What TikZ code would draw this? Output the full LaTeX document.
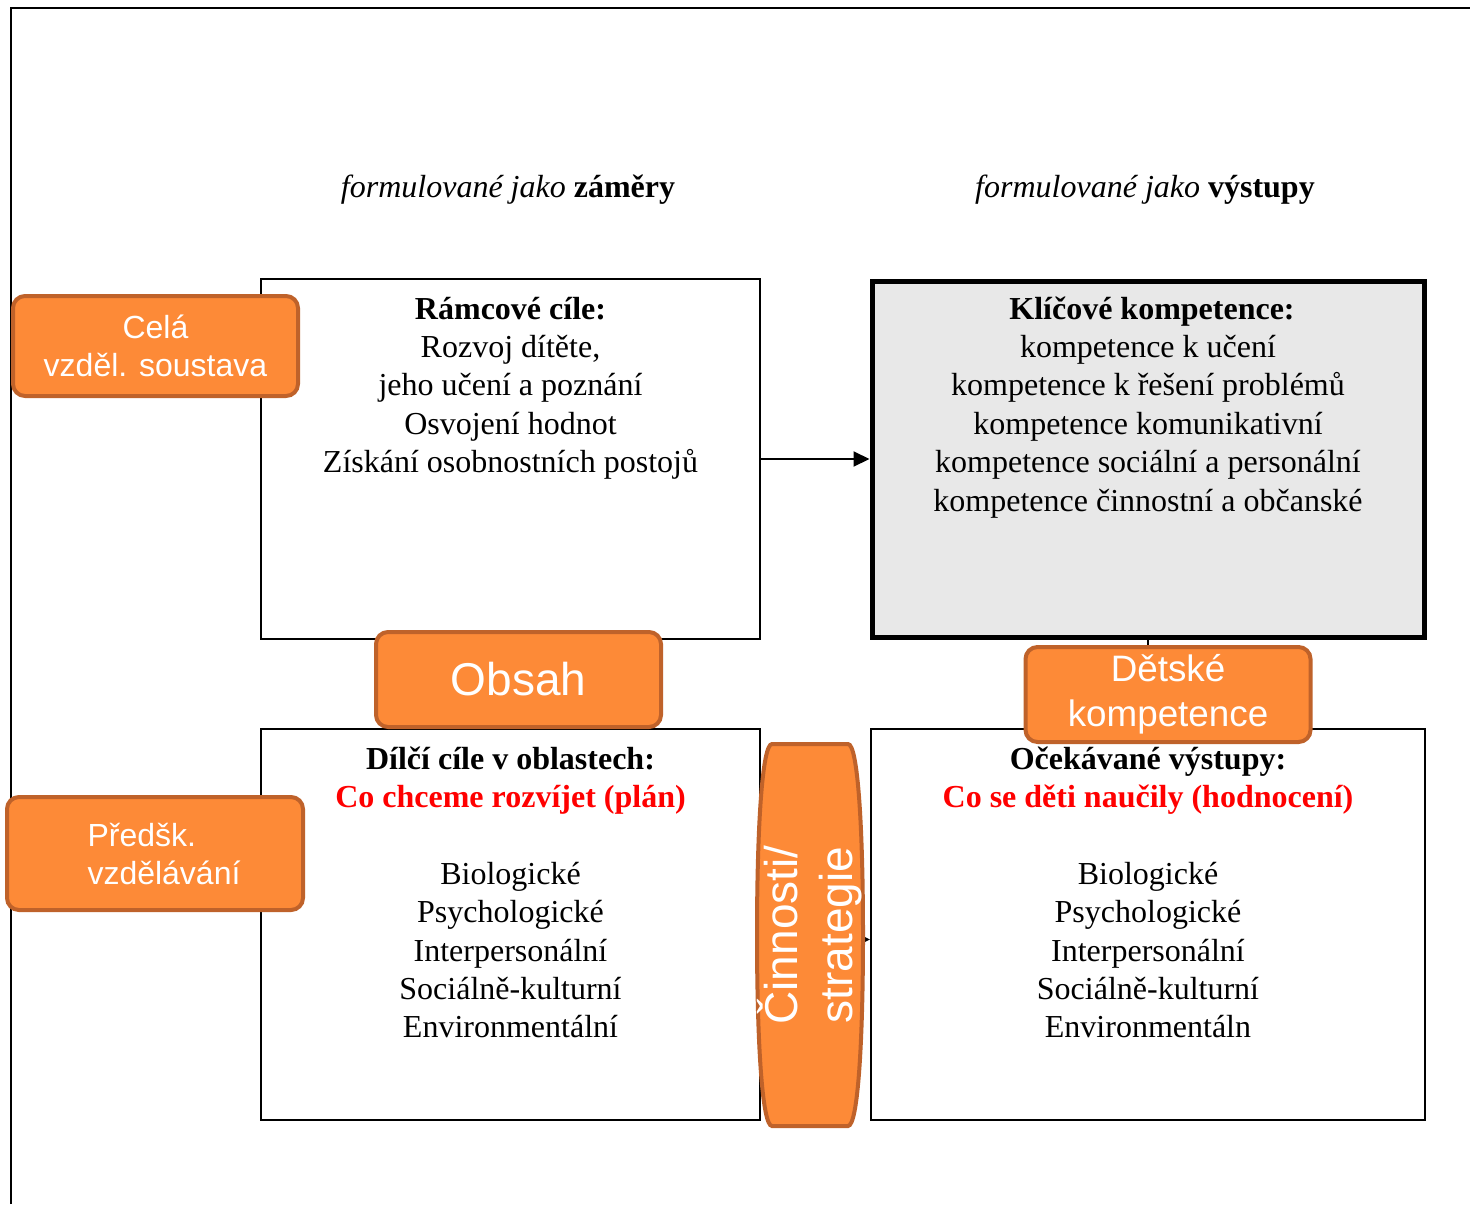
\documentclass[tikz,border=0pt]{standalone}
\usepackage{fontspec}
\setmainfont{Liberation Serif}
\setsansfont{Liberation Sans}
\usetikzlibrary{arrows.meta}
\definecolor{tag-orange}{HTML}{FD8A37}
\definecolor{tag-border}{HTML}{BF622A}
\definecolor{key-gray}{HTML}{E8E8E8}
\definecolor{plan-red}{HTML}{FF0000}
\newcommand{\bodysize}{\fontsize{16}{19.2}\selectfont}
\newcommand{\firstline}{\rule{0pt}{20pt}}
\tikzset{
    goal-box/.style = {draw=black, fill=white, line width=1pt, rectangle, inner sep=0pt, font=\bodysize},
    key-box/.style = {goal-box, fill=key-gray, line width=2.5pt},
    label-tag/.style = {draw=tag-border, fill=tag-orange, line width=2pt, rounded corners=6pt, text=white, font=\sffamily, align=center, inner sep=0pt},
    head-text/.style = {font=\bodysize},
    link/.style = {line width=1pt, -{Triangle[length=8pt,width=7.5pt]}},
}

\begin{document}
\begin{tikzpicture}[x=0.5pt,y=-0.5pt]
\useasboundingbox (0,0) rectangle (1470,1204);
\draw[line width=1pt] (11,1204) -- (11,8) -- (1470,8);

\node[head-text] (head-left) at (508,190) {\textit{formulované jako} \textbf{záměry}};
\node[head-text] (head-right) at (1145,190) {\textit{formulované jako} \textbf{výstupy}};

\node[goal-box] (ramc) at (510.5,459) {\parbox[c][180pt][t]{249.5pt}{\centering\firstline
    \textbf{Rámcové cíle:}\\
    Rozvoj dítěte,\\
    jeho učení a poznání\\
    Osvojení hodnot\\
    Získání osobnostních postojů}};
\node[key-box] (klic) at (1148,459) {\parbox[c][178pt][t]{276pt}{\centering\rule{0pt}{19pt}
    \textbf{Klíčové kompetence:}\\
    kompetence k učení\\
    kompetence k řešení problémů\\
    kompetence komunikativní\\
    kompetence sociální a personální\\
    kompetence činnostní a občanské}};
\node[goal-box] (dilci) at (510.5,924.5) {\parbox[c][195.5pt][t]{249.5pt}{\centering\firstline
    \textbf{Dílčí cíle v oblastech:}\\
    \textcolor{plan-red}{\textbf{Co chceme rozvíjet (plán)}}\\[19.2pt]
    Biologické\\
    Psychologické\\
    Interpersonální\\
    Sociálně-kulturní\\
    Environmentální}};
\node[goal-box] (ocek) at (1148,924.5) {\parbox[c][195.5pt][t]{277pt}{\centering\firstline
    \textbf{Očekávané výstupy:}\\
    \textcolor{plan-red}{\textbf{Co se děti naučily (hodnocení)}}\\[19.2pt]
    Biologické\\
    Psychologické\\
    Interpersonální\\
    Sociálně-kulturní\\
    Environmentáln}};

% links
\draw[link] (ramc) -- (klic);
\draw[line width=1pt] (klic.south) -- (ocek.north);
\draw[link] ([yshift=-7.5pt]dilci.east) -- ([yshift=-7.5pt]ocek.west);

% orange tags
\node[label-tag, minimum width=142.5pt, minimum height=50pt, font=\sffamily\fontsize{16}{19}\selectfont] (cela) at (155.5,346) {Celá\\vzděl. soustava};
\node[label-tag, minimum width=148pt, minimum height=56.5pt, align=left, font=\sffamily\fontsize{16}{19}\selectfont] (predsk) at (155,853.5) {\hspace*{9pt}Předšk.\\\hspace*{9pt}vzdělávání};
\node[label-tag, minimum width=142.5pt, minimum height=47.5pt, font=\sffamily\fontsize{23}{27}\selectfont] (obsah) at (518.5,679.5) {Obsah};
\node[label-tag, minimum width=142.5pt, minimum height=47.5pt, font=\sffamily\fontsize{18.4}{22.5}\selectfont] (detske) at (1168,694.5) {Dětské\\kompetence};
\draw[label-tag, rounded corners=0pt] (772,744) -- (848,744) .. controls (858,744) and (863,830) .. (863,935)
    .. controls (863,1040) and (858,1126) .. (848,1126) -- (772,1126)
    .. controls (762,1126) and (757,1040) .. (757,935) .. controls (757,830) and (762,744) .. (772,744) -- cycle;
\node[text=white, align=center, rotate=90, font=\sffamily\fontsize{23}{27.5}\selectfont] (cinnosti) at (810,935) {Činnosti/\\strategie};
\end{tikzpicture}
\end{document}
